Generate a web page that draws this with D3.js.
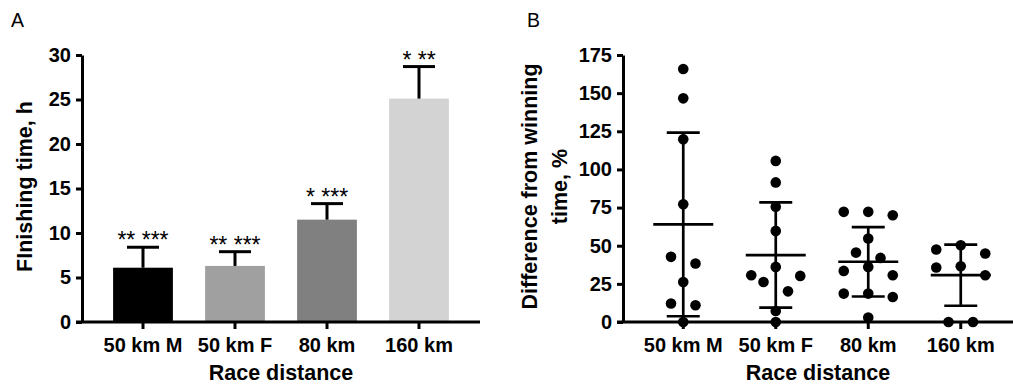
<!DOCTYPE html>
<html>
<head>
<meta charset="utf-8">
<script src="https://cdn.jsdelivr.net/npm/d3@7"></script>
<style>
  body { margin: 0; background: #fff; }
  svg { display: block; font-family: 'Liberation Sans', Arial, sans-serif; }
  .axis text { font-size: 20px; font-weight: bold; fill: #000; }
  .axis path, .axis line { stroke: #000; stroke-width: 3; }
  .title { font-size: 21.5px; font-weight: bold; }
  .panel { font-size: 19.5px; }
  .stars { font-size: 23px; }
</style>
</head>
<body>
<svg id="chart" width="1013" height="386"></svg>
<script>
'use strict'

const races = ['50 km M', '50 km F', '80 km', '160 km']

// panel A: mean finishing time (h) with SD and significance marks
const finishMean = [6.1, 6.3, 11.5, 25.1]
const finishSd = [2.3, 1.6, 1.8, 3.6]
const finishStars = ['** ***', '** ***', '* ***', '* **']
const finishTicks = [0, 5, 10, 15, 20, 25, 30]
const barColors = ['#000000', '#a0a0a0', '#808080', '#d3d3d3']

// panel B: difference from winning time (%) for each runner
const diff50M = [165.8, 146.6, 119.7, 77.2, 42.7, 38.3, 26.2, 12.1, 11.0, 0]
const diff50F = [105.6, 91.5, 75.5, 59.7, 36.1, 30.6, 30.2, 26.2, 20.1, 7.2, 0]
const diff80 = [72.2, 72.2, 70.0, 54.7, 45.5, 42.0, 36.1, 33.5, 30.6, 18.6, 18.6, 16.4, 2.9]
const diff160 = [50.3, 47.5, 44.9, 36.5, 35.7, 30.6, 0, 0]
const diffGroups = [diff50M, diff50F, diff80, diff160]
const diffTicks = [0, 25, 50, 75, 100, 125, 150, 175]

const svg = d3.select('#chart')
const plotTop = 55
const plotBottom = 322

function makeBand (start, end) {
  return d3.scaleBand().domain(races).range([start, end])
    .paddingInner(0.35).paddingOuter(0.175)
}

function drawAxes (x, y, ticks, axisX, axisEnd) {
  svg.append('g')
    .attr('class', 'axis')
    .attr('transform', `translate(${axisX},0)`)
    .call(d3.axisLeft(y).tickValues(ticks).tickSize(6).tickSizeOuter(0).tickPadding(5))
  const xa = svg.append('g')
    .attr('class', 'axis')
    .attr('transform', `translate(0,${plotBottom})`)
    .call(d3.axisBottom(x).tickSize(7).tickSizeOuter(0))
  xa.select('.domain').remove()
  xa.append('line')
    .attr('x1', axisX - 6)
    .attr('x2', axisEnd)
  xa.selectAll('text').attr('y', 30).attr('dy', 0)
}

function drawTitles (axisX, axisEnd, letter, letterX, yLines, yLineX) {
  svg.append('text')
    .attr('class', 'title')
    .attr('x', (axisX + axisEnd) / 2)
    .attr('y', 380)
    .attr('text-anchor', 'middle')
    .text('Race distance')
  yLines.forEach((t, i) => {
    svg.append('text')
      .attr('class', 'title')
      .attr('transform', `translate(${yLineX[i]},${(plotTop + plotBottom) / 2 - 2}) rotate(-90)`)
      .attr('text-anchor', 'middle')
      .text(t)
  })
  svg.append('text')
    .attr('class', 'panel')
    .attr('x', letterX)
    .attr('y', 27)
    .text(letter)
}

// ---- panel A: bars with upward SD ----
const xA = makeBand(97, 465)
const yA = d3.scaleLinear().domain([0, 30]).range([plotBottom, plotTop])
const gA = svg.append('g').attr('class', 'bars')

gA.selectAll('rect')
  .data(races)
  .join('rect')
  .attr('x', d => xA(d))
  .attr('width', xA.bandwidth())
  .attr('y', (d, i) => yA(finishMean[i]))
  .attr('height', (d, i) => yA(0) - yA(finishMean[i]))
  .attr('fill', (d, i) => barColors[i])

const errA = gA.selectAll('g.err')
  .data(races)
  .join('g')
  .attr('class', 'err')
  .attr('stroke', '#000')
  .attr('stroke-width', 3)
errA.append('line')
  .attr('x1', d => xA(d) + xA.bandwidth() / 2)
  .attr('x2', d => xA(d) + xA.bandwidth() / 2)
  .attr('y1', (d, i) => yA(finishMean[i]))
  .attr('y2', (d, i) => yA(finishMean[i] + finishSd[i]))
errA.append('line')
  .attr('x1', d => xA(d) + xA.bandwidth() / 2 - 16)
  .attr('x2', d => xA(d) + xA.bandwidth() / 2 + 16)
  .attr('y1', (d, i) => yA(finishMean[i] + finishSd[i]))
  .attr('y2', (d, i) => yA(finishMean[i] + finishSd[i]))

gA.selectAll('text.stars')
  .data(races)
  .join('text')
  .attr('class', 'stars')
  .attr('x', d => xA(d) + xA.bandwidth() / 2)
  .attr('y', (d, i) => yA(finishMean[i] + finishSd[i]) + 1)
  .attr('text-anchor', 'middle')
  .text((d, i) => finishStars[i])

drawAxes(xA, yA, finishTicks, 82, 480)
drawTitles(82, 480, 'A', 11, ['FInishing time, h'], [32])

// ---- panel B: scatter of runners with mean and SD ----
const xB = makeBand(637, 1007)
const yB = d3.scaleLinear().domain([0, 175]).range([plotBottom, plotTop])

// spread points that share a row symmetrically, first one in the centre
function swarm (values, cx) {
  const sorted = values.slice().sort((a, b) => b - a)
  const out = []
  let row = []
  const flush = () => {
    const n = row.length
    const slots = d3.range(n).map(k => k - (n - 1) / 2)
      .sort((a, b) => Math.abs(a) - Math.abs(b) || a - b)
    row.forEach((v, k) => out.push({ x: cx + slots[k] * 24.5, y: yB(v) }))
    row = []
  }
  for (const v of sorted) {
    if (row.length && yB(v) - yB(row[0]) >= 10) flush()
    row.push(v)
  }
  flush()
  return out
}

const gB = svg.append('g').attr('class', 'scatter')
diffGroups.forEach((vals, i) => {
  const cx = xB(races[i]) + xB.bandwidth() / 2
  const mean = d3.mean(vals)
  const sd = d3.deviation(vals)
  const g = gB.append('g')
  g.selectAll('circle')
    .data(swarm(vals, cx))
    .join('circle')
    .attr('cx', d => d.x)
    .attr('cy', d => d.y)
    .attr('r', 5.3)
    .attr('fill', '#000')
  const ln = g.append('g').attr('stroke', '#000').attr('stroke-width', 2.7)
  ln.append('line')
    .attr('x1', cx).attr('x2', cx)
    .attr('y1', yB(mean - sd)).attr('y2', yB(mean + sd))
  ln.append('line')
    .attr('x1', cx - 30).attr('x2', cx + 30)
    .attr('y1', yB(mean)).attr('y2', yB(mean))
  for (const v of [mean - sd, mean + sd]) {
    ln.append('line')
      .attr('x1', cx - 16.5).attr('x2', cx + 16.5)
      .attr('y1', yB(v)).attr('y2', yB(v))
  }
})

drawAxes(xB, yB, diffTicks, 623, 1013)
drawTitles(623, 1013, 'B', 527, ['Difference from winning', 'time, %'], [537, 567])
</script>
</body>
</html>
